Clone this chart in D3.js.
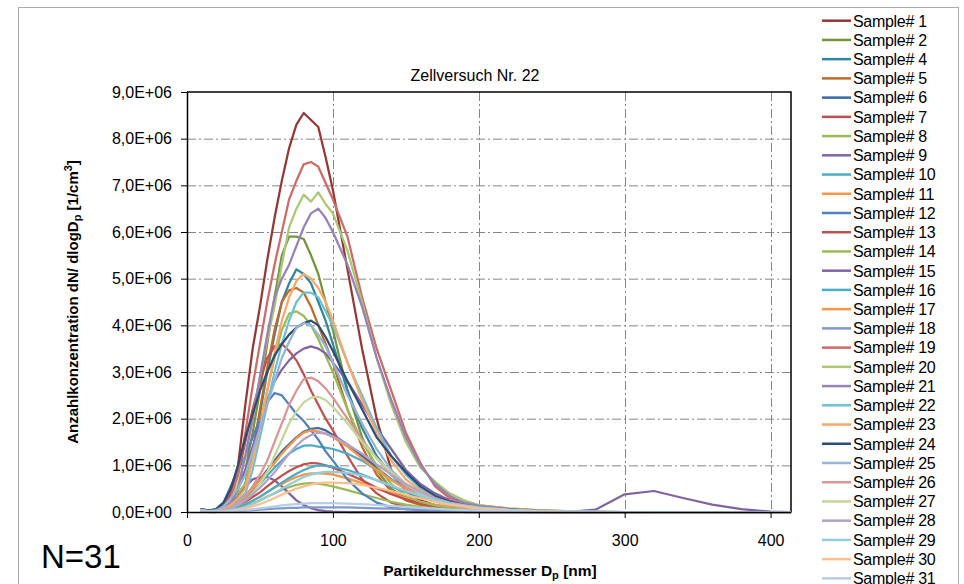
<!DOCTYPE html>
<html>
<head>
<meta charset="utf-8">
<script src="https://cdn.jsdelivr.net/npm/d3@7"></script>
<style>
body { margin: 0; background: #fff; }
text { font-family: Arial, "Liberation Sans", sans-serif; fill: #000; }
</style>
</head>
<body>
<script>
const width = 964;
const height = 584;

// particle diameter bins [nm]
const diameters = [9, 15, 20, 25, 30, 35, 40, 45, 50, 55,
  60, 65, 70, 75, 80, 85, 90, 95, 100, 110,
  120, 130, 140, 150, 160, 170, 180, 190, 200, 220,
  240, 260, 280, 300, 320, 340, 360, 380, 400, 414];

// dN/dlogDp in units of 1E+06 1/cm3, one array per sample
const s1 = [0.06,0.02,0.04,0.1,0.35,1.0,2.3,3.5,4.4,5.4, 6.3,7.1,7.8,8.3,8.55,8.4,8.25,7.6,6.9,5.2, 3.5,2.0,0.9,0.45,0.25,0.15,0.1,0.07,0.05,0.03, 0.02,0.01,0,0,0,0,0,0,0,0];
const s2 = [0.05,0.02,0.03,0.08,0.25,0.5,0.9,1.7,2.6,3.6, 4.6,5.5,5.9,5.9,5.85,5.5,5.1,4.5,3.9,2.6, 1.6,0.9,0.5,0.3,0.18,0.12,0.08,0.05,0.04,0.02, 0.01,0,0,0,0,0,0,0,0,0];
const s4 = [0.05,0.02,0.03,0.07,0.2,0.35,0.6,1.3,2.1,3.0, 3.8,4.5,4.9,5.2,5.1,4.9,4.5,4.1,3.6,2.6, 1.8,1.2,0.8,0.5,0.35,0.25,0.2,0.15,0.1,0.06, 0.03,0.01,0,0,0,0,0,0,0,0];
const s5 = [0.05,0.02,0.03,0.08,0.25,0.4,0.6,1.3,2.2,3.1, 3.9,4.5,4.75,4.8,4.7,4.4,4.0,3.6,3.2,2.2, 1.4,0.8,0.45,0.25,0.15,0.1,0.06,0.04,0.03,0.02, 0.01,0,0,0,0,0,0,0,0,0];
const s6 = [0.04,0.02,0.02,0.05,0.1,0.2,0.35,0.5,0.7,0.9, 1.1,1.3,1.45,1.6,1.72,1.78,1.8,1.75,1.65,1.45, 1.2,0.95,0.7,0.5,0.35,0.25,0.17,0.12,0.08,0.04, 0.02,0.01,0,0,0,0,0,0,0,0];
const s7 = [0.06,0.03,0.05,0.15,0.4,0.8,1.5,2.2,2.8,3.3, 3.55,3.6,3.45,3.25,2.95,2.6,2.3,2.0,1.75,1.2, 0.7,0.4,0.2,0.12,0.08,0.05,0.03,0.02,0.01,0, 0,0,0,0,0,0,0,0,0,0];
const s8 = [0.03,0.01,0.02,0.03,0.05,0.08,0.12,0.18,0.25,0.33, 0.4,0.47,0.53,0.58,0.61,0.62,0.61,0.58,0.55,0.47, 0.38,0.3,0.22,0.16,0.11,0.08,0.05,0.03,0.02,0.01, 0,0,0,0,0,0,0,0,0,0];
const s9 = [0.03,0.02,0.03,0.08,0.2,0.35,0.55,0.7,0.75,0.75, 0.68,0.55,0.4,0.25,0.15,0.08,0.04,0.02,0.01,0, 0,0,0,0,0,0,0,0,0,0, 0,0,0.05,0.38,0.45,0.3,0.16,0.06,0.01,0];
const s10 = [0.04,0.02,0.02,0.05,0.1,0.18,0.3,0.45,0.6,0.78, 0.95,1.1,1.25,1.35,1.42,1.43,1.4,1.38,1.35,1.25, 1.1,0.9,0.7,0.5,0.35,0.25,0.18,0.13,0.09,0.05, 0.02,0.01,0,0,0,0,0,0,0,0];
const s11 = [0.03,0.01,0.01,0.03,0.06,0.1,0.16,0.24,0.32,0.42, 0.52,0.6,0.68,0.75,0.8,0.83,0.83,0.82,0.8,0.72, 0.62,0.5,0.4,0.3,0.22,0.16,0.11,0.08,0.06,0.03, 0.01,0,0,0,0,0,0,0,0,0];
const s12 = [0.06,0.03,0.06,0.2,0.55,0.9,1.2,1.6,2.0,2.35, 2.55,2.5,2.3,2.1,1.95,1.75,1.55,1.3,1.1,0.7, 0.4,0.2,0.1,0.06,0.04,0.02,0.01,0,0,0, 0,0,0,0,0,0,0,0,0,0];
const s13 = [0.04,0.02,0.02,0.04,0.08,0.14,0.22,0.32,0.42,0.55, 0.67,0.78,0.88,0.96,1.02,1.05,1.04,1.0,0.95,0.82, 0.68,0.52,0.38,0.27,0.18,0.12,0.08,0.05,0.03,0.01, 0,0,0,0,0,0,0,0,0,0];
const s14 = [0.05,0.02,0.03,0.08,0.22,0.4,0.6,1.2,1.9,2.6, 3.3,3.9,4.25,4.3,4.2,4.0,3.7,3.35,3.0,2.2, 1.5,1.0,0.6,0.35,0.22,0.14,0.09,0.06,0.04,0.02, 0.01,0,0,0,0,0,0,0,0,0];
const s15 = [0.04,0.02,0.03,0.08,0.2,0.5,0.9,1.4,1.9,2.4, 2.8,3.05,3.25,3.4,3.5,3.55,3.5,3.4,3.2,2.8, 2.3,1.8,1.35,0.9,0.6,0.4,0.25,0.16,0.1,0.05, 0.02,0.01,0,0,0,0,0,0,0,0];
const s16 = [0.03,0.01,0.02,0.03,0.06,0.1,0.16,0.24,0.33,0.43, 0.53,0.63,0.73,0.82,0.9,0.96,1.0,0.99,0.97,0.9, 0.8,0.68,0.55,0.43,0.33,0.25,0.19,0.14,0.1,0.05, 0.02,0.01,0,0,0,0,0,0,0,0];
const s17 = [0.04,0.02,0.02,0.05,0.1,0.2,0.33,0.5,0.68,0.87, 1.05,1.25,1.42,1.58,1.7,1.75,1.73,1.68,1.6,1.4, 1.15,0.9,0.68,0.5,0.36,0.26,0.18,0.12,0.08,0.04, 0.02,0.01,0,0,0,0,0,0,0,0];
const s18 = [0.01,0,0,0.01,0.01,0.02,0.03,0.04,0.05,0.06, 0.07,0.08,0.09,0.09,0.1,0.1,0.1,0.1,0.1,0.1, 0.09,0.08,0.07,0.06,0.05,0.04,0.03,0.02,0.02,0.01, 0.01,0,0,0,0,0,0,0,0,0];
const s19 = [0.05,0.02,0.04,0.1,0.3,0.8,1.7,2.7,3.6,4.5, 5.3,6.0,6.7,7.1,7.45,7.5,7.4,7.05,6.7,5.9, 4.6,3.5,2.6,1.7,1.05,0.55,0.3,0.2,0.14,0.08, 0.04,0.02,0.01,0,0,0,0,0,0,0];
const s20 = [0.05,0.02,0.03,0.08,0.25,0.6,1.2,2.0,2.9,3.7, 4.4,5.3,6.1,6.5,6.8,6.65,6.85,6.6,6.4,5.6, 4.5,3.3,2.3,1.5,0.95,0.65,0.4,0.25,0.15,0.08, 0.04,0.02,0.01,0,0,0,0,0,0,0];
const s21 = [0.04,0.02,0.03,0.07,0.2,0.5,1.2,2.0,2.9,3.8, 4.6,5.0,5.3,5.7,6.1,6.4,6.5,6.3,6.0,5.3, 4.4,3.3,2.4,1.6,1.0,0.6,0.35,0.2,0.13,0.07, 0.03,0.01,0,0,0,0,0,0,0,0];
const s22 = [0.05,0.02,0.03,0.06,0.15,0.25,0.4,0.9,1.6,2.3, 3.0,3.6,4.1,4.5,4.7,4.7,4.6,4.3,4.0,3.2, 2.5,1.8,1.2,0.8,0.5,0.3,0.2,0.13,0.09,0.05, 0.02,0.01,0,0,0,0,0,0,0,0];
const s23 = [0.05,0.02,0.03,0.06,0.15,0.3,0.5,1.1,1.8,2.6, 3.4,4.1,4.6,4.95,5.1,5.0,4.8,4.5,4.1,3.2, 2.4,1.7,1.1,0.7,0.45,0.3,0.2,0.13,0.08,0.04, 0.02,0.01,0,0,0,0,0,0,0,0];
const s24 = [0.06,0.03,0.06,0.2,0.5,1.0,1.6,2.1,2.6,3.0, 3.35,3.6,3.8,3.95,4.05,4.1,4.0,3.75,3.45,2.8, 2.2,1.6,1.2,0.85,0.55,0.35,0.22,0.15,0.1,0.05, 0.02,0.01,0,0,0,0,0,0,0,0];
const s25 = [0.05,0.02,0.04,0.12,0.3,0.5,0.8,1.3,1.8,2.3, 2.8,3.3,3.65,3.95,4.05,4.0,3.8,3.55,3.2,2.5, 1.9,1.35,0.9,0.6,0.4,0.25,0.17,0.11,0.07,0.03, 0.01,0,0,0,0,0,0,0,0,0];
const s26 = [0.04,0.01,0.02,0.04,0.1,0.2,0.35,0.55,0.8,1.1, 1.5,1.9,2.3,2.6,2.85,2.88,2.8,2.65,2.45,2.0, 1.55,1.15,0.8,0.55,0.35,0.22,0.15,0.1,0.07,0.03, 0.01,0,0,0,0,0,0,0,0,0];
const s27 = [0.04,0.01,0.02,0.04,0.08,0.15,0.25,0.4,0.6,0.85, 1.2,1.55,1.9,2.15,2.35,2.45,2.47,2.4,2.25,1.9, 1.5,1.15,0.85,0.6,0.4,0.27,0.18,0.12,0.08,0.04, 0.02,0.01,0,0,0,0,0,0,0,0];
const s28 = [0.04,0.01,0.02,0.04,0.08,0.15,0.25,0.38,0.52,0.68, 0.85,1.05,1.25,1.42,1.56,1.65,1.7,1.68,1.62,1.45, 1.25,1.02,0.8,0.6,0.43,0.3,0.2,0.14,0.1,0.05, 0.02,0.01,0,0,0,0,0,0,0,0];
const s29 = [0.03,0.01,0.01,0.02,0.04,0.07,0.11,0.17,0.24,0.32, 0.41,0.5,0.59,0.67,0.75,0.8,0.84,0.86,0.86,0.84, 0.78,0.68,0.57,0.45,0.35,0.26,0.19,0.14,0.1,0.05, 0.02,0.01,0,0,0,0,0,0,0,0];
const s30 = [0.03,0.01,0.01,0.02,0.03,0.05,0.08,0.12,0.17,0.23, 0.3,0.37,0.44,0.5,0.55,0.59,0.62,0.63,0.63,0.62, 0.58,0.52,0.45,0.37,0.29,0.22,0.16,0.12,0.08,0.04, 0.02,0.01,0,0,0,0,0,0,0,0];
const s31 = [0.02,0.01,0.01,0.01,0.02,0.03,0.04,0.06,0.08,0.1, 0.12,0.14,0.16,0.17,0.18,0.19,0.19,0.19,0.19,0.18, 0.17,0.15,0.13,0.11,0.09,0.07,0.05,0.04,0.03,0.02, 0.01,0.01,0.01,0,0,0,0,0,0,0];

const sampleNames = ["Sample# 1", "Sample# 2", "Sample# 4", "Sample# 5", "Sample# 6", "Sample# 7",
  "Sample# 8", "Sample# 9", "Sample# 10", "Sample# 11", "Sample# 12", "Sample# 13", "Sample# 14",
  "Sample# 15", "Sample# 16", "Sample# 17", "Sample# 18", "Sample# 19", "Sample# 20", "Sample# 21",
  "Sample# 22", "Sample# 23", "Sample# 24", "Sample# 25", "Sample# 26", "Sample# 27", "Sample# 28",
  "Sample# 29", "Sample# 30", "Sample# 31"];
const sampleValues = [s1, s2, s4, s5, s6, s7, s8, s9, s10, s11, s12, s13, s14, s15, s16,
  s17, s18, s19, s20, s21, s22, s23, s24, s25, s26, s27, s28, s29, s30, s31];
const sampleColors = ["#953735", "#77933C", "#31859C", "#C0692E", "#3A67A5", "#C0504D",
  "#9BBB59", "#8064A2", "#4BACC6", "#F79646", "#4F81BD", "#C0504D", "#9BBB59", "#8064A2",
  "#4BACC6", "#F79646", "#7D9ACB", "#CD6B68", "#AAC774", "#9782B5", "#6FBFD6", "#F9A86A",
  "#2C4D75", "#95B3D7", "#D99694", "#C3D69B", "#B3A2C7", "#93CDDD", "#FAC090", "#B9CDE5"];

const yTicks = [0, 1, 2, 3, 4, 5, 6, 7, 8, 9];
const yTickLabels = ["0,0E+00", "1,0E+06", "2,0E+06", "3,0E+06", "4,0E+06",
  "5,0E+06", "6,0E+06", "7,0E+06", "8,0E+06", "9,0E+06"];
const xTicks = [0, 100, 200, 300, 400];

const svg = d3.select("body").append("svg").attr("width", width).attr("height", height);

// outer chart frame
svg.append("rect")
  .attr("x", 18.5).attr("y", 7.5)
  .attr("width", 940).attr("height", 600)
  .attr("fill", "none").attr("stroke", "#ababab").attr("stroke-width", 1);

const xScale = d3.scaleLinear().domain([0, 414]).range([187, 791]);
const yScale = d3.scaleLinear().domain([0, 9]).range([512, 92]);

// grid lines (dash dot)
svg.append("g")
  .selectAll("line")
  .data(yTicks.slice(1, -1))
  .join("line")
  .attr("x1", xScale(0)).attr("x2", xScale(414))
  .attr("y1", (d) => yScale(d) + 0.5).attr("y2", (d) => yScale(d) + 0.5)
  .attr("stroke", "#868686").attr("stroke-width", 1)
  .attr("stroke-dasharray", "9,3,2,3");

svg.append("g")
  .selectAll("line")
  .data(xTicks.slice(1))
  .join("line")
  .attr("x1", (d) => Math.round(xScale(d)) + 0.5).attr("x2", (d) => Math.round(xScale(d)) + 0.5)
  .attr("y1", yScale(9)).attr("y2", yScale(0))
  .attr("stroke", "#868686").attr("stroke-width", 1)
  .attr("stroke-dasharray", "9,3,2,3");

// top and right plot border
svg.append("path")
  .attr("d", `M${xScale(0)},${yScale(9)}H${xScale(414)}V${yScale(0)}`)
  .attr("fill", "none").attr("stroke", "#000").attr("stroke-width", 1.5);

// series lines
const line = d3.line()
  .x((d, i) => xScale(diameters[i]))
  .y((d) => yScale(d));

svg.append("g")
  .selectAll("path")
  .data(sampleValues)
  .join("path")
  .attr("d", line)
  .attr("fill", "none")
  .attr("stroke", (d, i) => sampleColors[i])
  .attr("stroke-width", 2.25)
  .attr("stroke-linejoin", "round");

// axes
const yAxis = svg.append("g")
  .attr("transform", `translate(${xScale(0)},0)`)
  .call(d3.axisLeft(yScale).tickValues(yTicks).tickFormat((d, i) => yTickLabels[i])
    .tickSize(6).tickSizeOuter(0).tickPadding(9));
const xAxis = svg.append("g")
  .attr("transform", `translate(0,${yScale(0)})`)
  .call(d3.axisBottom(xScale).tickValues(xTicks).tickSize(6).tickSizeOuter(0).tickPadding(17));

[yAxis, xAxis].forEach((g) => {
  g.selectAll("path.domain").attr("stroke", "#000").attr("stroke-width", 1.5);
  g.selectAll(".tick line").attr("stroke", "#000").attr("stroke-width", 1);
  g.selectAll("text")
    .attr("font-family", "Arial, 'Liberation Sans', sans-serif")
    .attr("font-size", 16).attr("fill", "#000");
});

// title
svg.append("text")
  .attr("x", 475).attr("y", 81)
  .attr("text-anchor", "middle")
  .attr("font-size", 16)
  .text("Zellversuch Nr. 22");

// y axis label
const yLabel = svg.append("text")
  .attr("transform", "translate(78,302) rotate(-90)")
  .attr("text-anchor", "middle")
  .attr("font-size", 15).attr("font-weight", "bold");
yLabel.append("tspan").text("Anzahlkonzentration dN/ dlogD");
yLabel.append("tspan").attr("font-size", 11).attr("dy", 3).text("p");
yLabel.append("tspan").attr("dy", -3).text(" [1/cm");
yLabel.append("tspan").attr("font-size", 11).attr("dy", -6).text("3");
yLabel.append("tspan").attr("dy", 6).text("]");

// x axis label
const xLabel = svg.append("text")
  .attr("x", 490).attr("y", 576)
  .attr("text-anchor", "middle")
  .attr("font-size", 15.5).attr("font-weight", "bold");
xLabel.append("tspan").text("Partikeldurchmesser D");
xLabel.append("tspan").attr("font-size", 11).attr("dy", 3).text("p");
xLabel.append("tspan").attr("dy", -3).text(" [nm]");

// sample count
svg.append("text")
  .attr("x", 41).attr("y", 568)
  .attr("font-size", 33)
  .text("N=31");

// legend
const legend = svg.append("g")
  .selectAll("g")
  .data(sampleNames)
  .join("g")
  .attr("transform", (d, i) => `translate(822,${20.7 + i * 19.23})`);

legend.append("line")
  .attr("x1", 0).attr("x2", 29)
  .attr("stroke", (d, i) => sampleColors[i])
  .attr("stroke-width", 2.5);

legend.append("text")
  .attr("x", 31).attr("y", 5.8)
  .attr("font-size", 16)
  .attr("letter-spacing", -0.3)
  .text((d) => d);
</script>
</body>
</html>
